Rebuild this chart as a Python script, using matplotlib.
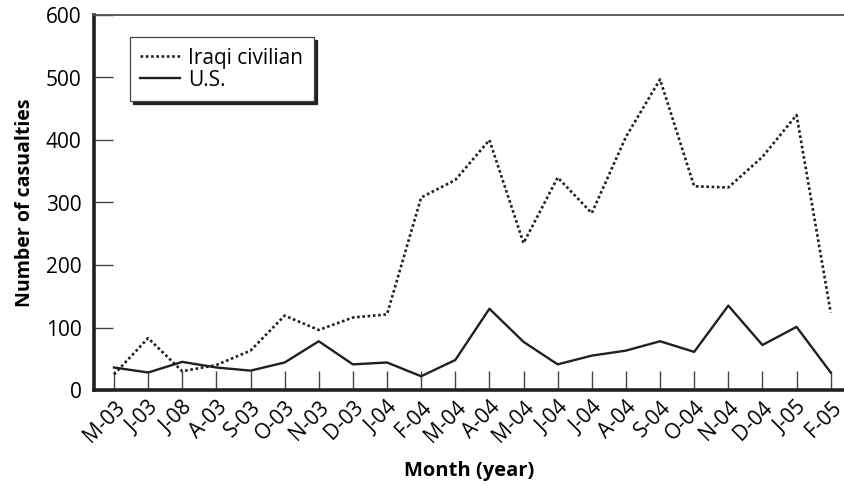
import matplotlib
matplotlib.use("Agg")
import matplotlib.pyplot as plt

# data
months = ["M-03", "J-03", "J-08", "A-03", "S-03", "O-03", "N-03", "D-03",
          "J-04", "F-04", "M-04", "A-04", "M-04", "J-04", "J-04", "A-04",
          "S-04", "O-04", "N-04", "D-04", "J-05", "F-05"]
iraqi = [25, 83, 30, 40, 63, 119, 96, 116, 121, 308, 336, 400, 235, 340,
         283, 405, 497, 326, 324, 373, 440, 124]
us = [36, 28, 45, 36, 31, 44, 78, 41, 44, 22, 48, 130, 77, 41, 55, 63,
      78, 61, 135, 72, 101, 28]

plt.rcParams["font.family"] = ["Open Sans", "DejaVu Sans"]
INK = "#231f20"

fig = plt.figure(figsize=(8.44, 4.86), dpi=100)
ax = fig.add_axes([94 / 844, 96 / 486, 750 / 844, 375 / 486])

x = list(range(len(months)))
ax.plot(x, iraqi, color=INK, linewidth=1.9, linestyle=(0, (1, 1.0)),
        label="Iraqi civilian")
ax.plot(x, us, color=INK, linewidth=1.7, label="U.S.")

ax.set_xlim(-0.586, 21.39)
ax.set_ylim(0, 600)
ax.set_xticks(x)
ax.set_xticklabels(months, rotation=45, ha="right", va="top",
                   rotation_mode="anchor", fontsize=15)
ax.set_yticks(range(0, 700, 100))
ax.tick_params(axis="y", labelsize=15, pad=9)
ax.tick_params(direction="in", length=14, width=1, color="#444444")
ax.tick_params(axis="x", pad=5)

ax.spines["left"].set_linewidth(2.6)
ax.spines["bottom"].set_linewidth(2.6)
ax.spines["left"].set_color(INK)
ax.spines["bottom"].set_color(INK)
ax.spines["top"].set_linewidth(1.3)
ax.spines["top"].set_color("#555555")
ax.spines["right"].set_visible(False)

ax.set_ylabel("Number of casualties", fontsize=14, fontweight="bold",
              labelpad=8)
ax.set_xlabel("Month (year)", fontsize=14.5, fontweight="bold", labelpad=10)

leg = ax.legend(loc="upper left", bbox_to_anchor=(0.048, 0.941),
                borderaxespad=0, fancybox=False,
                shadow={"color": INK, "alpha": 1},
                fontsize=15, handlelength=1.9, handletextpad=0.4,
                borderpad=0.5, labelspacing=0.05, framealpha=1)
leg.get_frame().set_edgecolor("#444444")
leg.get_frame().set_linewidth(0.9)

fig.savefig("out.png", dpi=100)
